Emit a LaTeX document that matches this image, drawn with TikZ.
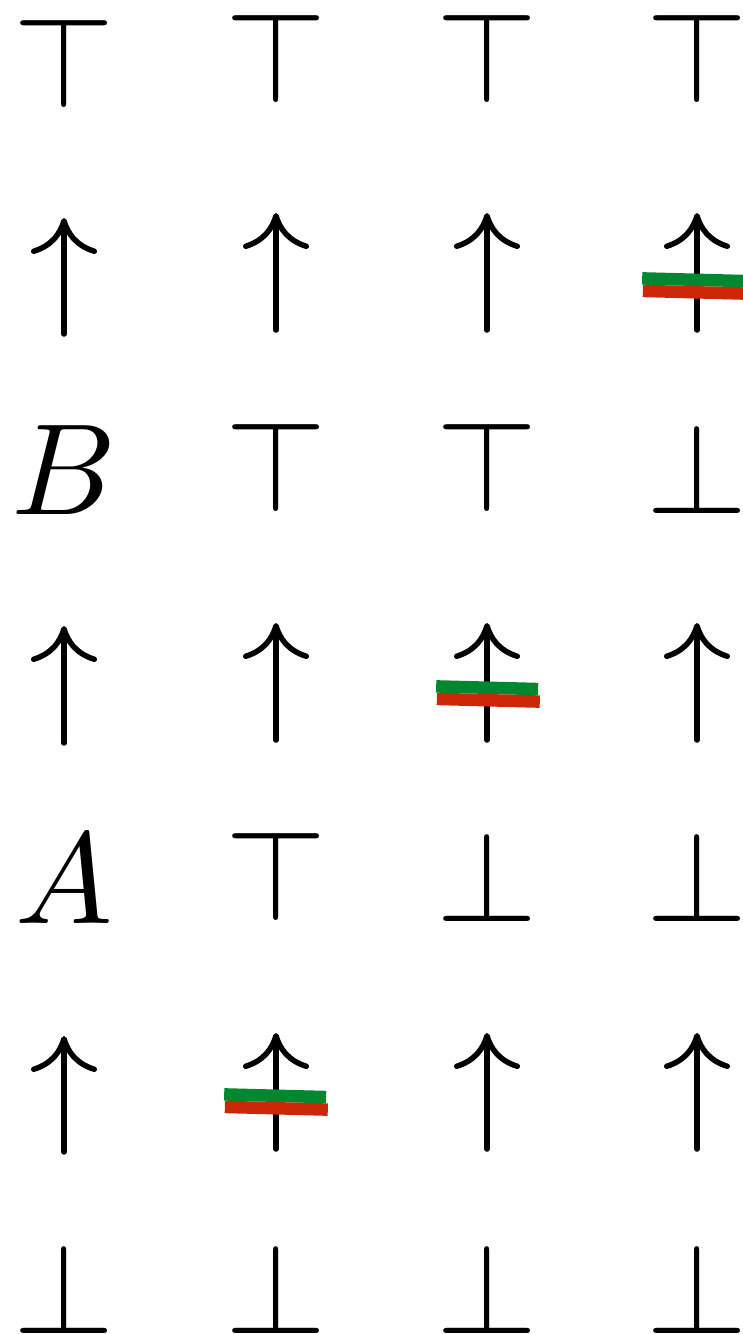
\documentclass[tikz,border=0pt]{standalone}
\usepackage{graphicx}
\usetikzlibrary{arrows.meta}
\definecolor{barGreen}{RGB}{0,136,48}
\definecolor{barRed}{RGB}{204,40,8}
\newcommand{\bigsym}[1]{\scalebox{1.3}{$#1$}}
\tikzset{
  obj/.style={anchor=base, inner sep=0pt, outer sep=0pt},
  uparr/.style={line width=0.55pt, line cap=round, -{Computer Modern Rightarrow[length=3.6pt,width=6.6pt]}},
  strike/.pic={
    \fill[barGreen] (-52,-12.5) rectangle (50,0);
    \fill[barRed] (-51,0) rectangle (52,12.5);
  }
}
\begin{document}
\begin{tikzpicture}[x=0.1pt,y=-0.1pt]
\useasboundingbox (0,0) rectangle (742,1334);
% row 1
\node[obj] (n11) at (64,107) {\bigsym{\top}};
\node[obj] (n12) at (276,103) {\bigsym{\top}};
\node[obj] (n13) at (487,103) {\bigsym{\top}};
\node[obj] (n14) at (697,103) {\bigsym{\top}};
% row 3
\node[obj] (n31) at (64,514) {\bigsym{B}};
\node[obj] (n32) at (276,511) {\bigsym{\top}};
\node[obj] (n33) at (487,511) {\bigsym{\top}};
\node[obj] (n34) at (697,513) {\bigsym{\bot}};
% row 5
\node[obj] (n51) at (64,923) {\bigsym{A}};
\node[obj] (n52) at (276,920) {\bigsym{\top}};
\node[obj] (n53) at (487,921) {\bigsym{\bot}};
\node[obj] (n54) at (697,921) {\bigsym{\bot}};
% row 7
\node[obj] (n71) at (64,1333) {\bigsym{\bot}};
\node[obj] (n72) at (276,1333) {\bigsym{\bot}};
\node[obj] (n73) at (487,1333) {\bigsym{\bot}};
\node[obj] (n74) at (697,1333) {\bigsym{\bot}};
% arrow ends
\coordinate (a21t) at (64,334);  \coordinate (a21h) at (64,218);
\coordinate (a22t) at (276,330); \coordinate (a22h) at (276,213);
\coordinate (a23t) at (487,330); \coordinate (a23h) at (487,213);
\coordinate (a24t) at (697,330); \coordinate (a24h) at (697,213);
\coordinate (a41t) at (64,743);  \coordinate (a41h) at (64,626);
\coordinate (a42t) at (276,740); \coordinate (a42h) at (276,623);
\coordinate (a43t) at (487,740); \coordinate (a43h) at (487,623);
\coordinate (a44t) at (697,740); \coordinate (a44h) at (697,623);
\coordinate (a61t) at (64,1152); \coordinate (a61h) at (64,1036);
\coordinate (a62t) at (276,1149); \coordinate (a62h) at (276,1033);
\coordinate (a63t) at (487,1149); \coordinate (a63h) at (487,1033);
\coordinate (a64t) at (697,1149); \coordinate (a64h) at (697,1033);
\foreach \r in {2,4,6} {
  \foreach \c in {1,2,3,4} {
    \draw[uparr] (a\r\c t) -- (a\r\c h);
  }
}
% strike-throughs
\pic[rotate=-1.5] at (694,286) {strike};
\pic[rotate=-1.5] at (488,694) {strike};
\pic[rotate=-1.5] at (276,1102) {strike};
\end{tikzpicture}
\end{document}
